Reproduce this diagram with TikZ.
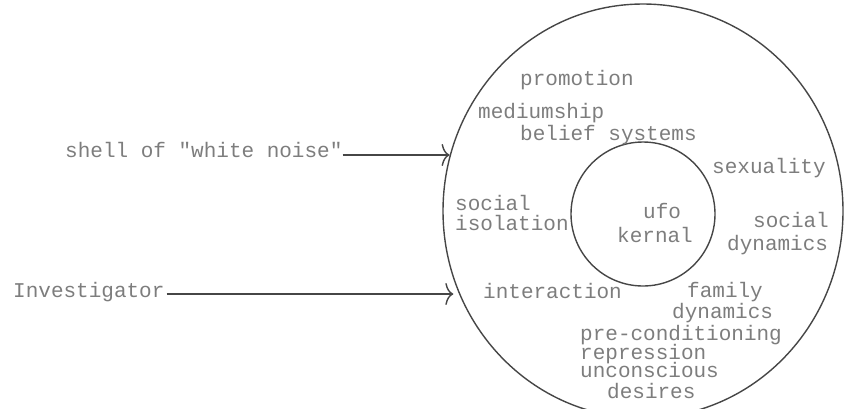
\documentclass[tikz,border=0pt]{standalone}
\usepackage{fontspec}
\usepackage{tikz}
\usetikzlibrary{positioning,calc,shapes.geometric,arrows.meta}
\setmonofont{Liberation Mono}
\definecolor{myink}{RGB}{70, 70, 70}
\definecolor{mytext}{RGB}{125, 125, 125}
\tikzstyle{word}=[inner sep=0pt,anchor=base west,text=mytext,font=\ttfamily\fontsize{21}{22}\selectfont]
\tikzstyle{ring}=[draw=myink,line width=1.4pt,inner sep=0pt]

\begin{document}
\begin{tikzpicture}[x=1pt,y=-1pt]
\tikzstyle{arrow}=[-{To[length=8pt,width=22pt]},line width=1.4pt,draw=myink]
\useasboundingbox (0,0) rectangle (846,408);
\clip (0,0) rectangle (846,408);
% the two rings
\node (O) [ring,ellipse,minimum width=400pt,minimum height=414pt] at (643,211) {};
\node (K) [ring,circle,minimum size=144pt] at (643,214) {};
% words outside
\node (W) [word] at (65,157) {shell of "white noise"};
\node (I) [word] at (13,297) {Investigator};
% words in the shell
\node (p1) [word] at (520,85) {promotion};
\node (p2) [word] at (478,118) {mediumship};
\node (p3) [word] at (520,140) {belief systems};
\node (p4) [word] at (712,173) {sexuality};
\node (p5) [word] at (455,210) {social};
\node (p6) [word] at (455,230) {isolation};
\node (p7) [word] at (753,227) {social};
\node (p8) [word] at (727,250) {dynamics};
\node (p9) [word] at (483,298) {interaction};
\node (p10) [word] at (687,297) {family};
\node (p11) [word] at (672,318) {dynamics};
\node (p12) [word] at (580,340) {pre-conditioning};
\node (p13) [word] at (580,359) {repression};
\node (p14) [word] at (580,377) {unconscious};
\node (p15) [word] at (607,398) {desires};
% the kernel
\node (u1) [word] at (643,218) {ufo};
\node (u2) [word] at (617,242) {kernal};

\coordinate (A) at (O.164);
\coordinate (B) at (O.203);
\draw[arrow] ($(W.base east)+(0,-2)$) -- ($(W.base east -| A)+(0,-2)$);
\draw[arrow] ($(I.base east)+(2,-3)$) -- ($(I.base east -| B)+(-4,-3)$);
\end{tikzpicture}
\end{document}
